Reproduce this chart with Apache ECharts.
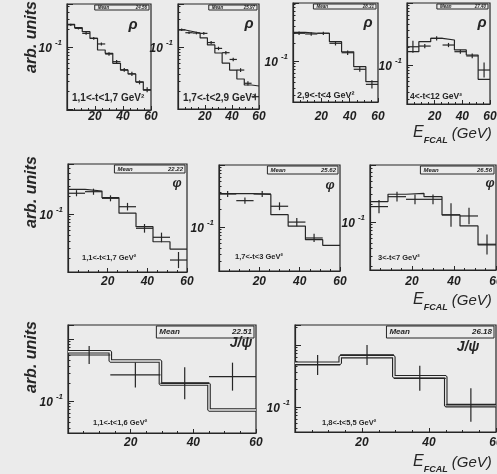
<!DOCTYPE html>
<html>
<head>
<meta charset="utf-8">
<script src="https://cdn.jsdelivr.net/npm/echarts@6/dist/echarts.min.js"></script>
<style>
html, body { margin: 0; padding: 0; background: #ebebeb; }
#chart { width: 497px; height: 474px; }
</style>
</head>
<body>
<div id="chart"></div>
<script>
// bin edges in GeV
const edges11 = [0, 5.45, 10.9, 16.4, 21.8, 27.3, 32.7, 38.2, 43.6, 49.1, 54.5, 60];
const edges7 = [0, 8.57, 17.14, 25.71, 34.29, 42.86, 51.43, 60];
const edges4 = [0, 13.5, 29.5, 45, 60];
const xTickLabels = [20, 40, 60];

// rho, four -t ranges (histogram = MC, data = points, err = [low, high])
const rho1Hist = [0.232, 0.205, 0.177, 0.138, 0.0895, 0.079, 0.0546, 0.0425, 0.0367, 0.0275, 0.0202];
const rho1Data = [0.228, 0.2, 0.166, 0.138, 0.112, 0.077, 0.058, 0.043, 0.037, 0.027, 0.0205];
const rho1Err = [[0.219, 0.237], [0.192, 0.208], [0.158, 0.174], [0.131, 0.145], [0.106, 0.118], [0.072, 0.082], [0.054, 0.062], [0.04, 0.046], [0.034, 0.04], [0.025, 0.029], [0.0186, 0.0225]];

const rho2Hist = [0.188, 0.178, 0.168, 0.14, 0.108, 0.08, 0.055, 0.0425, 0.0305, 0.0244, 0.0235];
const rho2Data = [0.19, 0.17, 0.168, 0.166, 0.118, 0.095, 0.081, 0.063, 0.0425, 0.026, 0.0158];
const rho2Err = [[0.182, 0.198], [0.162, 0.178], [0.16, 0.176], [0.157, 0.175], [0.111, 0.125], [0.089, 0.101], [0.076, 0.086], [0.059, 0.067], [0.0395, 0.0455], [0.024, 0.028], [0.0138, 0.0178]];

const rho3Hist = [0.29, 0.28, 0.28, 0.205, 0.141, 0.081, 0.0464];
const rho3Data = [0.28, 0.273, 0.28, 0.193, 0.136, 0.0735, 0.042];
const rho3Err = [[0.262, 0.298], [0.256, 0.29], [0.263, 0.297], [0.178, 0.208], [0.125, 0.147], [0.067, 0.08], [0.036, 0.049]];

const rho4Hist = [0.164, 0.238, 0.269, 0.253, 0.175, 0.145, 0.0588];
const rho4Data = [0.197, 0.202, 0.269, 0.21, 0.164, 0.14, 0.083];
const rho4Err = [[0.158, 0.246], [0.187, 0.218], [0.249, 0.29], [0.194, 0.227], [0.152, 0.177], [0.128, 0.153], [0.063, 0.11]];

// phi
const phi1Hist = [0.25, 0.235, 0.183, 0.103, 0.0624, 0.0357, 0.0272];
const phi1Data = [0.216, 0.229, 0.179, 0.131, 0.0588, 0.0421, 0.0181];
const phi1Err = [[0.193, 0.242], [0.204, 0.256], [0.16, 0.2], [0.114, 0.151], [0.05, 0.069], [0.035, 0.05], [0.0134, 0.0244]];

const phi2Hist = [0.345, 0.345, 0.335, 0.158, 0.103, 0.0624, 0.0507];
const phi2Data = [0.341, 0.266, 0.341, 0.216, 0.12, 0.0665, null];
const phi2Err = [[0.305, 0.381], [0.236, 0.3], [0.305, 0.381], [0.187, 0.25], [0.103, 0.14], [0.057, 0.078], null];

const phi3Hist = [0.213, 0.28, 0.29, 0.256, 0.13, 0.0862, 0.0425];
const phi3Data = [0.177, 0.256, 0.232, 0.232, 0.13, 0.125, 0.0437];
const phi3Err = [[0.138, 0.227], [0.213, 0.307], [0.193, 0.278], [0.193, 0.278], [0.084, 0.2], [0.092, 0.17], [0.03, 0.063]];

// J/psi
const jpsi1Hist = [0.624, 0.442, 0.188, 0.0716];
const jpsi1Data = [0.552, 0.263, 0.193, 0.247];
const jpsi1Err = [[0.394, 0.773], [0.165, 0.418], [0.107, 0.349], [0.147, 0.415]];

const jpsi2Hist = [0.507, 0.648, 0.308, 0.105];
const jpsi2Data = [0.476, 0.69, 0.29, 0.108];
const jpsi2Err = [[0.328, 0.69], [0.476, 1.0], [0.182, 0.461], [0.058, 0.201]];

const particles = ['ρ', 'ρ', 'ρ', 'ρ', 'φ', 'φ', 'φ', 'J/ψ', 'J/ψ'];
const tRanges = ['1,1<-t<1,7 GeV²', '1,7<-t<2,9 GeV²', '2,9<-t<4 GeV²', '4<-t<12 GeV²',
  '1,1<-t<1,7 GeV²', '1,7<-t<3 GeV²', '3<-t<7 GeV²', '1,1<-t<1,6 GeV²', '1,8<-t<5,5 GeV²'];
const meanValues = ['24.56', '25.97', '28.31', '27.40', '22.22', '25.62', '26.56', '22.51', '26.18'];

const FONT = "'Liberation Sans', Arial, sans-serif";
const INK = '#262626';
const BG = '#ebebeb';

// layout of each panel: rect = [left, top, width, height]; rng = [dx, y, font size]
const panels = [
  { rect: [67, 4, 84, 106], yr: [0.00964, 0.494], edges: edges11, hist: rho1Hist, data: rho1Data, err: rho1Err, row: 0, tag: [-18, 21, 15], rng: [5, 98, 10], meanFrom: 0.33 },
  { rect: [178, 4, 81, 105], yr: [0.01, 0.494], edges: edges11, hist: rho2Hist, data: rho2Data, err: rho2Err, row: 0, tag: [-10, 20, 15], rng: [5, 98, 10], meanFrom: 0.38 },
  { rect: [293, 3, 85, 99], yr: [0.0218, 0.862], edges: edges7, hist: rho3Hist, data: rho3Data, err: rho3Err, row: 0, tag: [-10, 20, 15], rng: [4, 96, 9], meanFrom: 0.24 },
  { rect: [407, 3, 83, 101], yr: [0.0235, 1.0], edges: edges7, hist: rho4Hist, data: rho4Data, err: rho4Err, row: 0, tag: [-8, 20, 15], rng: [3, 97, 8.5], meanFrom: 0.36 },
  { rect: [68, 164, 119, 108], yr: [0.0116, 0.64], edges: edges7, hist: phi1Hist, data: phi1Data, err: phi1Err, row: 1, tag: [-10, 19, 13], rng: [14, 258, 7.5], meanFrom: 0.39 },
  { rect: [219, 165, 121, 106], yr: [0.0195, 1.0], edges: edges7, hist: phi2Hist, data: phi2Data, err: phi2Err, row: 1, tag: [-10, 20, 13], rng: [16, 257, 7.5], meanFrom: 0.4 },
  { rect: [370, 165, 126, 105], yr: [0.0168, 0.83], edges: edges7, hist: phi3Hist, data: phi3Data, err: phi3Err, row: 1, tag: [-6, 18, 13], rng: [8, 258, 7.5], meanFrom: 0.4 },
  { rect: [68, 325, 188, 108], yr: [0.0305, 1.68], edges: edges4, hist: jpsi1Hist, data: jpsi1Data, err: jpsi1Err, row: 2, tag: [-15, 18, 14], rng: [25, 423, 7.5], meanFrom: 0.47, band: true },
  { rect: [295, 325, 201, 107], yr: [0.0395, 2.1], edges: edges4, hist: jpsi2Hist, data: jpsi2Data, err: jpsi2Err, row: 2, tag: [-28, 22, 14], rng: [27, 423, 7.5], meanFrom: 0.455, band: true }
];
const rowLabelY = [117, 282, 443];
const rowUnitY = [37, 192, 357];
const rowEY = [135, 302, 464];
const meanBoxH = [5, 8, 12];
const meanFont = [4.5, 6, 8];

const grids = [], xAxes = [], yAxes = [], series = [], graphics = [];

function errorCross(params, api) {
  const c = api.coord([api.value(0), api.value(1)]);
  const l = api.coord([api.value(4), api.value(1)]);
  const r = api.coord([api.value(5), api.value(1)]);
  const lo = api.coord([api.value(0), api.value(2)]);
  const hi = api.coord([api.value(0), api.value(3)]);
  const st = { stroke: INK, lineWidth: 1.2 };
  return {
    type: 'group',
    children: [
      { type: 'line', shape: { x1: l[0], y1: c[1], x2: r[0], y2: c[1] }, style: st },
      { type: 'line', shape: { x1: c[0], y1: hi[1], x2: c[0], y2: lo[1] }, style: st }
    ]
  };
}

panels.forEach((p, i) => {
  const [left, top, width, height] = p.rect;
  const right = left + width, bottom = top + height;

  grids.push({ left, top, width, height, show: true, borderColor: INK, borderWidth: 1.2, backgroundColor: 'transparent', containLabel: false, outerBoundsMode: 'none' });

  xAxes.push({
    gridIndex: i, type: 'value', min: 0, max: 60, interval: 20,
    axisLine: { show: true, lineStyle: { color: INK, width: 1.2 } },
    axisTick: { show: true, inside: true, length: 4, lineStyle: { color: INK } },
    minorTick: { show: true, splitNumber: 4, length: 2, lineStyle: { color: INK } },
    splitLine: { show: false },
    axisLabel: {
      formatter: (v) => (xTickLabels.includes(v) ? String(v) : ''),
      margin: rowLabelY[p.row] - 6 - bottom,
      color: '#1e1e1e', fontFamily: FONT, fontWeight: 'bold', fontStyle: 'italic', fontSize: 12
    }
  });

  yAxes.push({
    gridIndex: i, type: 'log', logBase: 10, min: p.yr[0], max: p.yr[1],
    axisLine: { show: true, lineStyle: { color: INK, width: 1.2 } },
    axisTick: { show: true, inside: true, length: 6, lineStyle: { color: INK } },
    minorTick: { show: true, splitNumber: 10, length: 2.5, lineStyle: { color: INK } },
    splitLine: { show: false },
    axisLabel: {
      margin: 5,
      formatter: (v) => (Math.abs(Math.log10(v) + 1) < 1e-6 ? '{b|10}{s|-1}' : ''),
      rich: {
        b: { fontFamily: FONT, fontSize: 12, fontWeight: 'bold', fontStyle: 'italic', color: '#1e1e1e', verticalAlign: 'bottom' },
        s: { fontFamily: FONT, fontSize: 8, fontWeight: 'bold', fontStyle: 'italic', color: '#1e1e1e', verticalAlign: 'bottom', padding: [0, 0, 8, 3] }
      }
    }
  });

  // histogram as a step outline
  const steps = [];
  p.hist.forEach((h, k) => { steps.push([p.edges[k], h], [p.edges[k + 1], h]); });
  if (p.band) {
    series.push({ type: 'line', xAxisIndex: i, yAxisIndex: i, data: steps, symbol: 'none', silent: true, lineStyle: { color: INK, width: 3.6 }, z: 2 });
    series.push({ type: 'line', xAxisIndex: i, yAxisIndex: i, data: steps, symbol: 'none', silent: true, lineStyle: { color: BG, width: 1.4 }, z: 2 });
  } else {
    series.push({ type: 'line', xAxisIndex: i, yAxisIndex: i, data: steps, symbol: 'none', silent: true, lineStyle: { color: INK, width: 1.2 }, z: 2 });
  }

  // data points with error bars
  const pts = [];
  p.data.forEach((v, k) => {
    if (v == null) return;
    pts.push([(p.edges[k] + p.edges[k + 1]) / 2, v, p.err[k][0], p.err[k][1], p.edges[k], p.edges[k + 1]]);
  });
  series.push({ type: 'custom', xAxisIndex: i, yAxisIndex: i, data: pts, encode: { x: 0, y: 1 }, renderItem: errorCross, clip: true, silent: true, z: 3 });

  // stats box
  const bh = meanBoxH[p.row], fs = meanFont[p.row];
  const bx = left + width * p.meanFrom;
  graphics.push({ type: 'rect', shape: { x: bx, y: top + 1, width: right - 2 - bx, height: bh }, style: { fill: 'none', stroke: INK, lineWidth: 1 } });
  graphics.push({ type: 'text', x: bx + 3, y: top + 1 + bh / 2, style: { text: 'Mean', font: `italic bold ${fs}px ${FONT}`, fill: INK, align: 'left', verticalAlign: 'middle', textAlign: 'left', textVerticalAlign: 'middle' } });
  graphics.push({ type: 'text', x: right - 4, y: top + 1 + bh / 2, style: { text: meanValues[i], font: `italic bold ${fs}px ${FONT}`, fill: INK, align: 'right', verticalAlign: 'middle', textAlign: 'right', textVerticalAlign: 'middle' } });

  // particle tag
  graphics.push({ type: 'text', x: right + p.tag[0], y: top + p.tag[1], style: { text: particles[i], font: `italic bold ${p.tag[2]}px ${FONT}`, fill: INK, align: 'center', verticalAlign: 'middle', textAlign: 'center', textVerticalAlign: 'middle' } });

  // -t range
  graphics.push({ type: 'text', x: left + p.rng[0], y: p.rng[1], style: { text: tRanges[i], font: `bold ${p.rng[2]}px ${FONT}`, fill: INK, align: 'left', verticalAlign: 'middle', textAlign: 'left', textVerticalAlign: 'middle' } });
});

rowUnitY.forEach((y) => {
  graphics.push({ type: 'text', x: 32, y, rotation: Math.PI / 2, style: { text: 'arb. units', font: `italic bold 16px ${FONT}`, fill: INK, align: 'center', verticalAlign: 'middle', textAlign: 'center', textVerticalAlign: 'middle' } });
});

rowEY.forEach((y) => {
  graphics.push({
    type: 'text', x: 413, y,
    style: {
      text: '{e|E}{s|FCAL}{g| (GeV)}', fill: INK, align: 'left', verticalAlign: 'middle', textAlign: 'left', textVerticalAlign: 'middle',
      rich: {
        e: { fontFamily: FONT, fontSize: 16, fontStyle: 'italic', fill: INK, verticalAlign: 'bottom', padding: [0, 0, 4, 0] },
        s: { fontFamily: FONT, fontSize: 9, fontWeight: 'bold', fontStyle: 'italic', fill: INK, verticalAlign: 'bottom' },
        g: { fontFamily: FONT, fontSize: 15, fontStyle: 'italic', fill: INK, verticalAlign: 'bottom', padding: [0, 0, 4, 0] }
      }
    }
  });
});

const chart = echarts.init(document.getElementById('chart'));
chart.setOption({
  backgroundColor: BG,
  animation: false,
  grid: grids,
  xAxis: xAxes,
  yAxis: yAxes,
  series: series,
  graphic: { elements: graphics }
});
</script>
</body>
</html>
